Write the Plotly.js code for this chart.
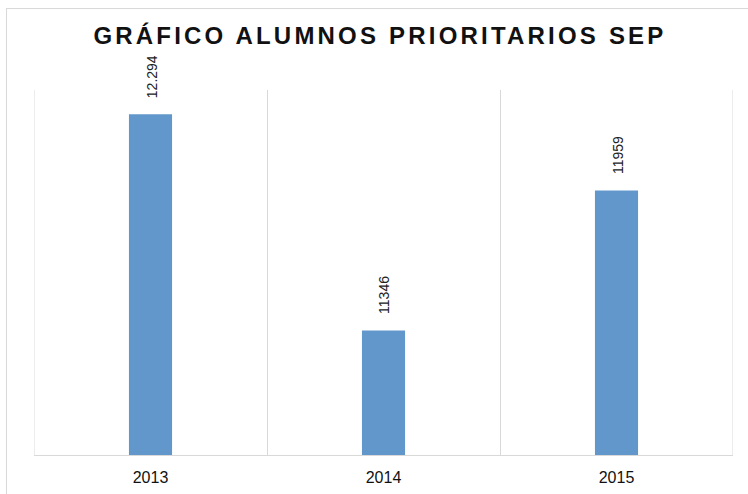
<!DOCTYPE html>
<html>
<head>
<meta charset="utf-8">
<script src="https://cdn.plot.ly/plotly-3.0.1.min.js"></script>
<style>
  html, body { margin: 0; padding: 0; background: #ffffff; overflow: hidden; }
  #frame { position: absolute; left: 6px; top: 8px; width: 900px; height: 700px; border: 1px solid #d9d9d9; }
  #chart { position: absolute; left: 0; top: 0; width: 748px; height: 494px; }
  .gtitle { letter-spacing: 3.2px; }
</style>
</head>
<body>
<div id="frame"></div>
<div id="chart"></div>
<script>
const years = ["2013", "2014", "2015"];
const alumnos = [12294, 11346, 11959];
const labels = ["12.294", "11346", "11959"];

const trace = {
  type: "bar",
  x: years,
  y: alumnos,
  marker: { color: "#6197CB" },
  hoverinfo: "skip"
};

const annotations = years.map((yr, i) => ({
  x: i,
  y: alumnos[i],
  xref: "x",
  yref: "y",
  text: labels[i],
  showarrow: false,
  textangle: -90,
  xanchor: "center",
  yanchor: "bottom",
  xshift: 1,
  yshift: 14,
  font: { family: "Liberation Sans, Arial, sans-serif", size: 14, color: "#222222" }
}));

const edgeLines = [-0.5, 2.5].map(v => ({
  type: "line",
  xref: "x",
  yref: "paper",
  x0: v, x1: v,
  y0: 0, y1: 1,
  line: { color: "#d9d9d9", width: 1 },
  layer: "below"
}));

const layout = {
  width: 748,
  height: 494,
  margin: { l: 34, r: 15, t: 90, b: 39 },
  paper_bgcolor: "rgba(0,0,0,0)",
  plot_bgcolor: "rgba(0,0,0,0)",
  bargap: 0.815,
  showlegend: false,
  title: {
    text: "<b>GRÁFICO ALUMNOS PRIORITARIOS SEP</b>",
    x: 0.508,
    xanchor: "center",
    y: 0.928,
    yanchor: "middle",
    font: { family: "Liberation Sans, Arial, sans-serif", size: 24, color: "#111111" }
  },
  xaxis: {
    type: "category",
    range: [-0.5, 2.5],
    tickson: "boundaries",
    ticks: "",
    showgrid: true,
    gridcolor: "#d9d9d9",
    gridwidth: 1,
    showline: true,
    linecolor: "#d9d9d9",
    linewidth: 1,
    mirror: false,
    tickfont: { family: "Liberation Sans, Arial, sans-serif", size: 16, color: "#111111" },
    ticklabelstandoff: 8
  },
  yaxis: {
    range: [10800, 12400],
    visible: false,
    showgrid: false,
    zeroline: false
  },
  shapes: edgeLines,
  annotations: annotations
};

Plotly.newPlot("chart", [trace], layout, { displayModeBar: false, staticPlot: true });
</script>
</body>
</html>
